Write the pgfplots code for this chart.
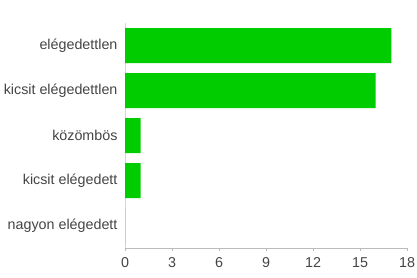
\documentclass[border=0pt]{standalone}
\usepackage{fontspec}
\setmainfont{Liberation Sans}
\usepackage{pgfplots}
\pgfplotsset{compat=1.18}
\definecolor{bargreen}{HTML}{00CC00}
\definecolor{txt}{HTML}{444444}
\definecolor{axgray}{HTML}{BBBBBB}
\begin{document}
\begin{tikzpicture}[x=1pt,y=1pt]
\useasboundingbox (0,0) rectangle (417,278);
\begin{axis}[
  at={(125pt,30pt)}, anchor=south west,
  scale only axis, width=282pt, height=225pt,
  xbar, bar width=35pt,
  xmin=0, xmax=18, ymin=-0.5, ymax=4.5,
  y dir=reverse,
  xtick={0,3,...,18},
  ytick={0,1,2,3,4},
  yticklabels={elégedettlen,kicsit elégedettlen,közömbös,kicsit elégedett,nagyon elégedett},
  axis x line*=bottom, axis y line*=left,
  x axis line style={draw=axgray, -},
  y axis line style={draw=axgray!60, -},
  y tick style={draw=none},
  x tick style={draw=axgray},
  xtick align=outside, major tick length=3pt,
  tick label style={font=\fontsize{14.3}{16}\selectfont, text=txt},
  /pgf/number format/assume math mode=true,
  xticklabel style={yshift=-3pt},
  yticklabel style={xshift=-1pt},
]
\addplot[draw=none, fill=bargreen] coordinates {(17,0) (16,1) (1,2) (1,3) (0,4)};
\end{axis}
\end{tikzpicture}
\end{document}
